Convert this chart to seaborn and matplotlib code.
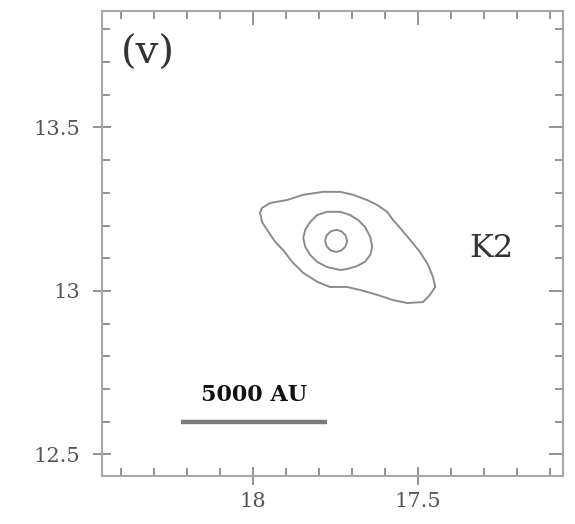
import numpy as np
import pandas as pd
import matplotlib
matplotlib.use("Agg")
import matplotlib.pyplot as plt
from matplotlib.ticker import MultipleLocator, FixedLocator, FixedFormatter
import seaborn as sns

# Contour outlines (RA offset, Dec offset), listed clockwise
outer_ra = [17.979, 17.973, 17.948, 17.897, 17.848, 17.788, 17.736, 17.697,
            17.655, 17.624, 17.594, 17.576, 17.555, 17.524, 17.494, 17.470,
            17.455, 17.448, 17.464, 17.485, 17.533, 17.576, 17.624, 17.676,
            17.715, 17.767, 17.806, 17.848, 17.882, 17.909, 17.933, 17.958,
            17.973]
outer_dec = [13.239, 13.254, 13.269, 13.278, 13.294, 13.303, 13.303, 13.294,
             13.278, 13.263, 13.242, 13.217, 13.193, 13.156, 13.119, 13.080,
             13.043, 13.012, 12.988, 12.966, 12.963, 12.972, 12.988, 13.003,
             13.012, 13.012, 13.028, 13.055, 13.089, 13.125, 13.150, 13.187,
             13.211]

mid_ra = [17.736, 17.706, 17.682, 17.661, 17.645, 17.639, 17.645, 17.661,
          17.685, 17.715, 17.736, 17.776, 17.806, 17.827, 17.842, 17.848,
          17.842, 17.827, 17.806, 17.776]
mid_dec = [13.242, 13.232, 13.217, 13.196, 13.165, 13.135, 13.110, 13.089,
           13.076, 13.067, 13.064, 13.073, 13.089, 13.110, 13.135, 13.162,
           13.187, 13.211, 13.232, 13.242]

inner_ra = [17.748, 17.732, 17.720, 17.715, 17.720, 17.732,
            17.748, 17.765, 17.777, 17.782, 17.777, 17.765]
inner_dec = [13.187, 13.182, 13.170, 13.153, 13.136, 13.124,
             13.119, 13.124, 13.136, 13.153, 13.170, 13.182]

x_ticks = [18.0, 17.5]
x_ticklabels = ["18", "17.5"]
y_ticks = [12.5, 13.0, 13.5]
y_ticklabels = ["12.5", "13", "13.5"]

scale_bar_ra = [18.22, 17.775]
scale_bar_dec = 12.60
scale_label = "5000 AU"
panel_label = "(v)"
source_label = "K2"

# Assemble closed outlines into one long table
frames = []
for name, ra, dec in [("outer", outer_ra, outer_dec),
                      ("mid", mid_ra, mid_dec),
                      ("inner", inner_ra, inner_dec)]:
    ra_c = list(ra) + [ra[0]]
    dec_c = list(dec) + [dec[0]]
    frames.append(pd.DataFrame({"ra": ra_c, "dec": dec_c, "level": name,
                                "step": range(len(ra_c))}))
contours = pd.concat(frames, ignore_index=True)

sns.set_theme(style="white")
plt.rcParams["font.family"] = ["DejaVu Serif", "Liberation Serif"]

fig = plt.figure(figsize=(5.75, 5.24), dpi=100)
ax = fig.add_axes([0.1774, 0.0916, 0.8016, 0.8874])

line_grey = "#8c8c8c"
sns.lineplot(data=contours, x="ra", y="dec", units="level", estimator=None,
             sort=False, color=line_grey, linewidth=1.4, ax=ax, legend=False)

ax.plot(scale_bar_ra, [scale_bar_dec, scale_bar_dec], color="#7a7a7a",
        linewidth=3.2, solid_capstyle="butt")
ax.text(np.mean(scale_bar_ra), scale_bar_dec + 0.082, scale_label,
        ha="center", va="center", fontsize=16, fontweight="bold",
        color="#111111")
ax.text(17.279, 13.131, source_label, ha="center", va="center",
        fontsize=23, color="#333333")
ax.text(18.318, 13.728, panel_label, ha="center", va="center",
        fontsize=29, color="#333333")

ax.set_xlim(18.458, 17.061)
ax.set_ylim(12.434, 13.856)
ax.set_xlabel("")
ax.set_ylabel("")

spine_grey = "#a8a8a8"
for s in ax.spines.values():
    s.set_visible(True)
    s.set_color(spine_grey)
    s.set_linewidth(1.5)

ax.xaxis.set_major_locator(FixedLocator(x_ticks))
ax.xaxis.set_major_formatter(FixedFormatter(x_ticklabels))
ax.yaxis.set_major_locator(FixedLocator(y_ticks))
ax.yaxis.set_major_formatter(FixedFormatter(y_ticklabels))
ax.xaxis.set_minor_locator(MultipleLocator(0.1))
ax.yaxis.set_minor_locator(MultipleLocator(0.1))

ax.tick_params(which="major", direction="inout", length=13, width=1.3,
               color="#8a8a8a", labelsize=15, labelcolor="#555555",
               bottom=True, left=True, top=False, right=False)
ax.tick_params(axis="y", which="major", pad=9)
ax.tick_params(axis="x", which="major", pad=5)
ax.tick_params(which="minor", direction="in", length=5.5, width=1.3,
               color="#8a8a8a", bottom=True, left=True, top=True, right=True)

# Inward-only major ticks along the top and right edges
top = ax.secondary_xaxis("top")
top.set_xticks(x_ticks)
top.tick_params(direction="in", length=10, width=1.3, color="#8a8a8a",
                labeltop=False)
top.spines["top"].set_visible(False)
right = ax.secondary_yaxis("right")
right.set_yticks(y_ticks)
right.tick_params(direction="in", length=10, width=1.3, color="#8a8a8a",
                  labelright=False)
right.spines["right"].set_visible(False)

fig.savefig("out.png", dpi=100, facecolor="white")
